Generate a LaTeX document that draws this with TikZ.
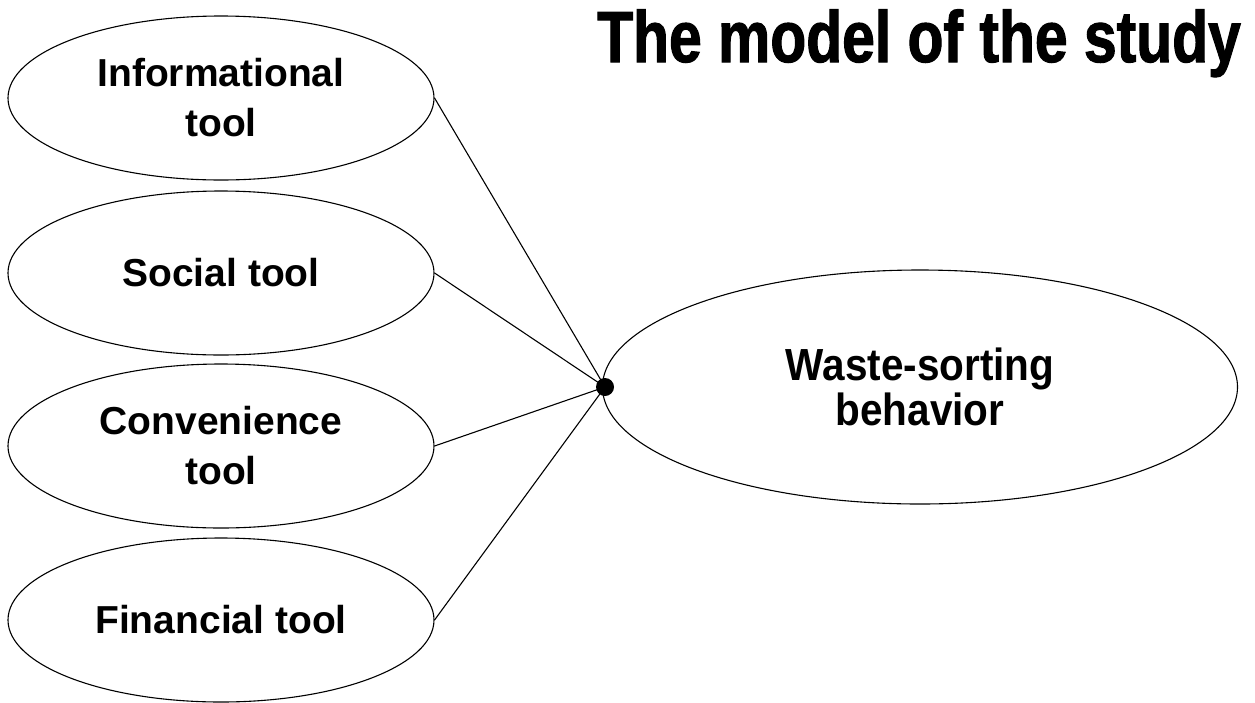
\documentclass[tikz,border=0pt]{standalone}
\usepackage{fontspec}
\setmainfont{Liberation Sans}
\newfontfamily\labfont{Liberation Sans}[BoldFont={Liberation Sans Bold}]
\newfontfamily\bigfont{Liberation Sans Bold}[FakeStretch=0.9]
\newfontfamily\titlefont{Liberation Sans Bold}[FakeStretch=0.81,FakeBold=1.5]
\usetikzlibrary{shapes.geometric}
\begin{document}
\begin{tikzpicture}[x=1pt,y=-1pt,
  tool/.style={draw=black,line width=1.1pt,ellipse,minimum width=426pt,minimum height=164pt,inner sep=0pt,align=center,
    font=\labfont\bfseries\fontsize{39}{50}\selectfont},
  target/.style={draw=black,line width=1.1pt,ellipse,minimum width=635pt,minimum height=234pt,inner sep=0pt,align=center,
    font=\bigfont\fontsize{45}{45}\selectfont},
  link/.style={draw=black,line width=1.1pt},
  junction/.style={circle,fill=black,inner sep=0pt,minimum size=18pt}]
\useasboundingbox[fill=white] (0,0) rectangle (1255,702);
\node[anchor=base east,inner sep=0pt,font=\titlefont\fontsize{72.6}{80}\selectfont] (title) at (1241,62) {The model of the study};
\node[tool] (info) at (221,98) {Informational\\tool};
\node[tool] (soc) at (221,273) {Social tool};
\node[tool] (conv) at (221,446) {Convenience\\tool};
\node[tool] (fin) at (221,620) {Financial tool};
\node[target] (ws) at (920,387) {Waste-sorting\\behavior};
\node[junction] (dot) at (605,387) {};
\draw[link] (info.east) -- (dot.center);
\draw[link] (soc.east) -- (dot.center);
\draw[link] (conv.east) -- (dot.center);
\draw[link] (fin.east) -- (dot.center);
\end{tikzpicture}
\end{document}
